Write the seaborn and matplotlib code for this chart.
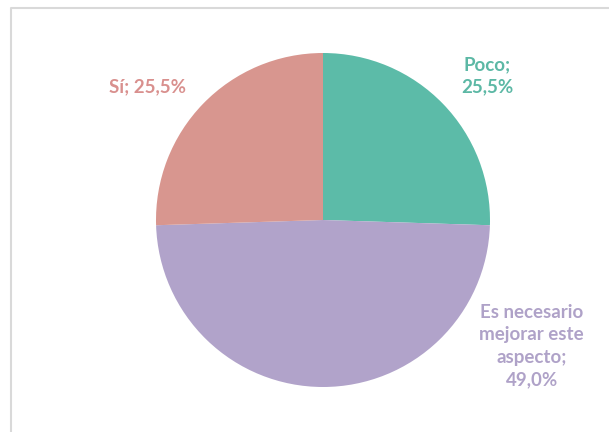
import matplotlib
matplotlib.use("Agg")
import matplotlib.pyplot as plt
import seaborn as sns
from matplotlib.lines import Line2D

# Data
labels = ["Poco", "Es necesario\nmejorar este\naspecto", "Sí"]
values = [25.5, 49.0, 25.5]
colors = ["#5CBBA8", "#B1A3CA", "#D8968F"]

sns.set_theme(style="white")
plt.rcParams["font.family"] = ["Lato", "DejaVu Sans"]

fig = plt.figure(figsize=(6.09, 4.32), dpi=100)

# outer frame (chart area border, only top and left visible)
fx, fy = 11 / 609, (432 - 8) / 432
fig.lines.append(Line2D([fx, fx, 1.0], [0.0, fy, fy], transform=fig.transFigure,
                        color="#d9d9d9", linewidth=1.5))

cx, cy, r = 323, 220, 167
ax = fig.add_axes([(cx - r) / 609, (432 - cy - r) / 432, 2 * r / 609, 2 * r / 432])
ax.pie(values, colors=colors, startangle=90, counterclock=False,
       radius=1, wedgeprops=dict(linewidth=0))
ax.set_xlim(-1, 1)
ax.set_ylim(-1, 1)
ax.set_aspect("equal")
ax.axis("off")

# data labels
label_pos = [(0.985, 0.865), (1.25, -0.755), (-1.05, 0.795)]
text_colors = ["#5CB8A5", "#AFA2C8", "#D9908E"]
for lab, v, (x, y), c in zip(labels, values, label_pos, text_colors):
    pct = f"{v:.1f}".replace(".", ",") + "%"
    if lab == "Sí":
        txt = f"{lab}; {pct}"
    else:
        txt = f"{lab};\n{pct}"
    ax.text(x, y, txt, ha="center", va="center", color=c, fontsize=13.5,
            fontweight="bold", linespacing=1.37)

fig.savefig("out.png", dpi=100)
